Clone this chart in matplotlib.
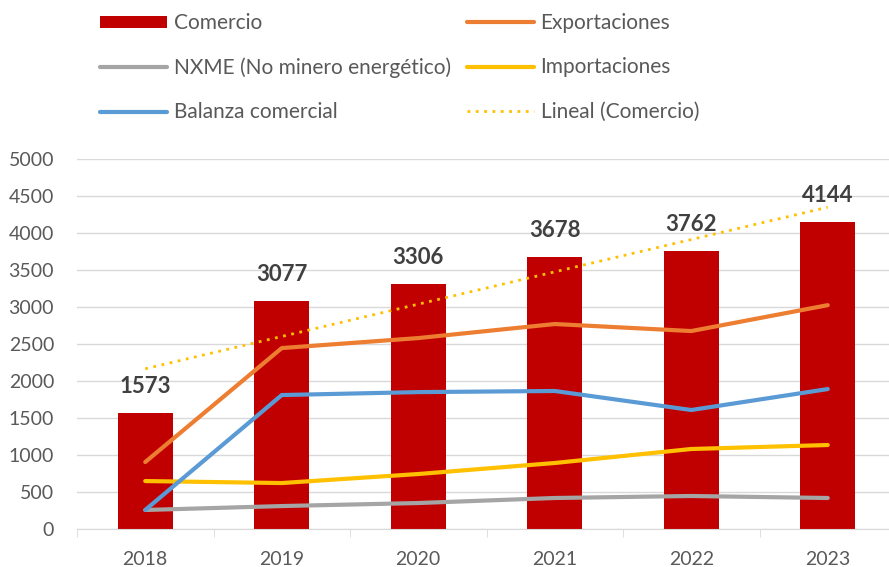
import numpy as np
import matplotlib.pyplot as plt
from matplotlib.lines import Line2D
from matplotlib.patches import Patch

plt.rcParams['font.family'] = ['Lato', 'DejaVu Sans']

years = ["2018", "2019", "2020", "2021", "2022", "2023"]
comercio = [1573, 3077, 3306, 3678, 3762, 4144]
exportaciones = [905, 2445, 2580, 2770, 2675, 3025]
nxme = [257, 310, 351, 419, 446, 419]
importaciones = [648, 621, 743, 892, 1081, 1135]
balanza = [257, 1810, 1850, 1865, 1608, 1891]

fig = plt.figure(figsize=(8.89, 5.67), dpi=100)
ax = fig.add_axes([77 / 889, 1 - 529 / 567, 819 / 889, 370 / 567])

x = np.arange(len(years))
ax.bar(x, comercio, width=0.4, color="#C00000", zorder=2)
ax.plot(x, exportaciones, color="#ED7D31", lw=3, solid_capstyle="round", zorder=3)
ax.plot(x, nxme, color="#A5A5A5", lw=3, solid_capstyle="round", zorder=3)
ax.plot(x, importaciones, color="#FFC000", lw=3, solid_capstyle="round", zorder=3)
ax.plot(x, balanza, color="#5B9BD5", lw=3, solid_capstyle="round", zorder=3)

# linear trend of Comercio
k, b = np.polyfit(x, comercio, 1)
ax.plot(x, k * x + b, color="#FFC000", lw=2, ls=(0, (1, 2)), zorder=3)

for xi, v in zip(x, comercio):
    ax.annotate(str(v), (xi, v), xytext=(0, 19), textcoords="offset points",
                ha="center", va="center", fontsize=16, fontweight="bold", color="#404040")

ax.set_ylim(0, 5000)
ax.set_yticks(range(0, 5001, 500))
ax.set_xlim(-0.5, 5.5)
ax.set_xticks(x)
ax.set_xticklabels(years)
ax.set_xticks(np.arange(-0.5, 6, 1), minor=True)
ax.tick_params(axis="x", which="major", length=0, pad=16, labelsize=14, labelcolor="#595959")
ax.tick_params(axis="x", which="minor", length=6, color="#D9D9D9")
ax.tick_params(axis="y", length=0, pad=16.5, labelsize=14, labelcolor="#595959")
ax.grid(axis="y", color="#D9D9D9", lw=1, zorder=0)
ax.set_axisbelow(True)
for s in ["top", "right", "left"]:
    ax.spines[s].set_visible(False)
ax.spines["bottom"].set_color("#D9D9D9")

col1 = [
    Patch(facecolor="#C00000", label="Comercio"),
    Line2D([], [], color="#A5A5A5", lw=3, solid_capstyle="round", label="NXME (No minero energético)"),
    Line2D([], [], color="#5B9BD5", lw=3, solid_capstyle="round", label="Balanza comercial"),
]
col2 = [
    Line2D([], [], color="#ED7D31", lw=3, solid_capstyle="round", label="Exportaciones"),
    Line2D([], [], color="#FFC000", lw=3, solid_capstyle="round", label="Importaciones"),
    Line2D([], [], color="#FFC000", lw=2, ls=(0, (1, 2)), label="Lineal (Comercio)"),
]
for hs, x0 in [(col1, 100), (col2, 467)]:
    fig.legend(handles=hs, loc="upper left", bbox_to_anchor=(x0 / 889, 1 - 13 / 567),
               frameon=False, fontsize=15, labelcolor="#595959", handlelength=3.2,
               handletextpad=0.33, labelspacing=1.17, handleheight=0.5,
               borderpad=0, borderaxespad=0)

fig.savefig("out.png", dpi=100)
